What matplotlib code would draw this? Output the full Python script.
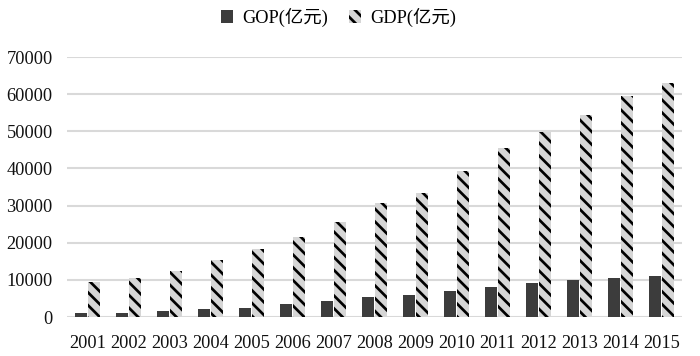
import matplotlib
matplotlib.use("Agg")
import matplotlib.pyplot as plt
import numpy as np
from matplotlib.patches import Patch

years = ["2001", "2002", "2003", "2004", "2005", "2006", "2007", "2008",
         "2009", "2010", "2011", "2012", "2013", "2014", "2015"]
gop = [1000, 1000, 1600, 2200, 2500, 3500, 4300, 5500, 5800, 7100,
       8200, 9100, 10000, 10500, 11000]
gdp = [9500, 10500, 12500, 15400, 18300, 21600, 25700, 30800, 33500, 39400,
       45400, 49900, 54400, 59400, 62900]
yticks = [0, 10000, 20000, 30000, 40000, 50000, 60000, 70000]
series_names = ["GOP(亿元)", "GDP(亿元)"]

DPI = 115
plt.rcParams['font.family'] = ['Liberation Serif', 'Noto Sans CJK SC', 'DejaVu Sans']
plt.rcParams['hatch.linewidth'] = 1.7

fig = plt.figure(figsize=(700 / DPI, 356 / DPI), dpi=DPI)
ax = fig.add_axes([67 / 700, (356 - 317) / 356, (682 - 67) / 700, (317 - 57) / 356])

x = np.arange(len(years))
w = 0.3
gop_color = "#3c3c3c"
gdp_face = "#d6d6d6"

ax.bar(x - 0.162, gop, width=w, color=gop_color, zorder=3)
ax.bar(x + 0.162, gdp, width=w, facecolor=gdp_face, edgecolor="black",
       hatch="\\\\\\", linewidth=0, zorder=3)

ax.set_xlim(-0.5, len(years) - 0.5)
ax.set_ylim(0, 70000)
ax.set_yticks(yticks)
ax.set_yticklabels([str(v) for v in yticks], fontsize=11.5, color="#111111")
ax.set_xticks(x)
ax.set_xticklabels(years, fontsize=11.5, color="#111111")
ax.tick_params(axis="y", length=0, pad=9)
ax.tick_params(axis="x", length=0, pad=11)

ax.yaxis.grid(True, color="#d9d9d9", linewidth=1.3, zorder=0)
ax.set_axisbelow(True)
for s in ax.spines.values():
    s.set_visible(False)

handles = [Patch(facecolor=gop_color, edgecolor="none"),
           Patch(facecolor=gdp_face, edgecolor="black", hatch="\\\\\\", linewidth=0)]
fig.legend(handles, series_names, loc="center", bbox_to_anchor=(338.5 / 700, (356 - 17.5) / 356),
           ncol=2, frameon=False, fontsize=11.5, handlelength=0.7, handleheight=0.7,
           handletextpad=0.5, columnspacing=1.1)

fig.savefig("out.png", dpi=DPI, facecolor="white")
